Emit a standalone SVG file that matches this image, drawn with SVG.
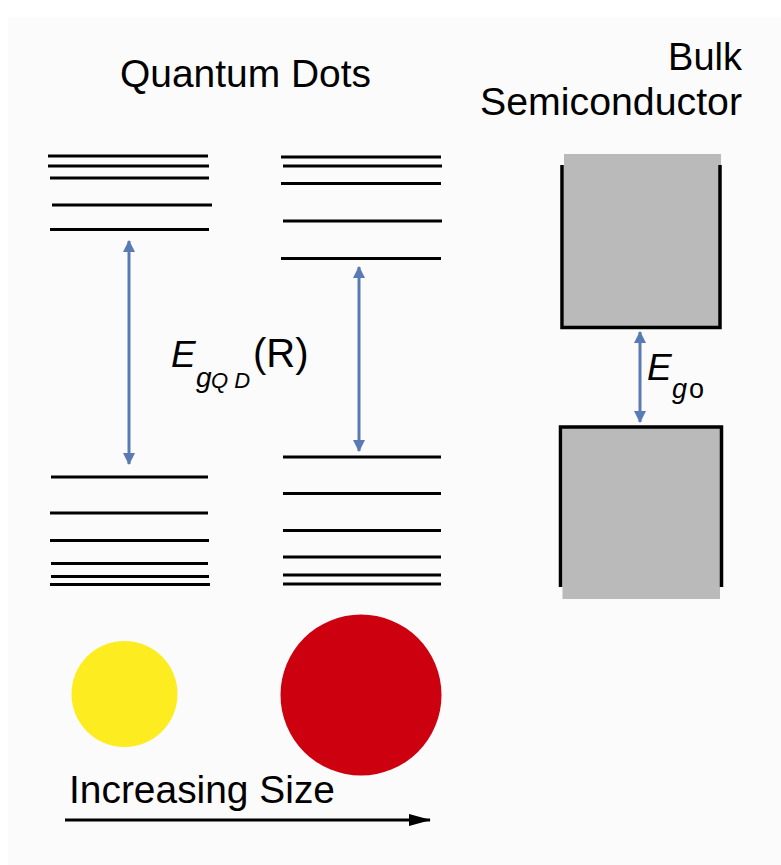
<svg xmlns="http://www.w3.org/2000/svg" width="781" height="865" viewBox="0 0 781 865">
<defs>
<style>
.t{font-family:"Liberation Sans",Arial,sans-serif;fill:#000}
.lv{stroke:#000;stroke-width:3;fill:none}
.bx{stroke:#000;stroke-width:3.5;fill:none}
.ar{stroke:#5a7ab4;stroke-width:3;fill:none}
</style>
<marker id="bh" viewBox="0 0 12 12" refX="11" refY="6" markerWidth="12" markerHeight="12" markerUnits="userSpaceOnUse" orient="auto-start-reverse">
<path d="M0,0 L12,6 L0,12 z" fill="#5a7ab4"/>
</marker>
<marker id="kh" viewBox="0 0 22 12" refX="21" refY="6" markerWidth="22" markerHeight="12" markerUnits="userSpaceOnUse" orient="auto">
<path d="M0,0 L22,6 L0,12 z" fill="#000"/>
</marker>
</defs>
<rect x="0" y="0" width="781" height="865" fill="#ffffff"/>
<rect x="8" y="17" width="773" height="848" fill="#fbfbfb"/>

<g id="title-qd"><text class="t" x="120" y="87" font-size="38" textLength="251" lengthAdjust="spacingAndGlyphs">Quantum Dots</text></g>
<g id="title-bulk">
<text class="t" x="742" y="70" font-size="38" text-anchor="end">Bulk</text>
<text class="t" x="742" y="115" font-size="38" text-anchor="end" textLength="262" lengthAdjust="spacingAndGlyphs">Semiconductor</text>
</g>

<g id="qd-small-levels" class="lv">
<line x1="48" y1="156" x2="208" y2="156"/>
<line x1="48" y1="166" x2="209" y2="166"/>
<line x1="50" y1="178" x2="209" y2="178"/>
<line x1="52" y1="205" x2="212" y2="205"/>
<line x1="50" y1="229.5" x2="209" y2="229.5"/>
<line x1="51" y1="477" x2="208" y2="477"/>
<line x1="50" y1="513" x2="208" y2="513"/>
<line x1="50" y1="540.5" x2="209" y2="540.5"/>
<line x1="51" y1="563.5" x2="208" y2="563.5"/>
<line x1="51" y1="576.5" x2="209" y2="576.5"/>
<line x1="50" y1="584.5" x2="210" y2="584.5"/>
</g>

<g id="qd-large-levels" class="lv">
<line x1="281" y1="157" x2="441" y2="157"/>
<line x1="283" y1="166" x2="442" y2="166"/>
<line x1="281" y1="183.5" x2="441" y2="183.5"/>
<line x1="283" y1="221" x2="442" y2="221"/>
<line x1="281" y1="258.5" x2="441" y2="258.5"/>
<line x1="283" y1="457" x2="441" y2="457"/>
<line x1="283" y1="493.5" x2="441" y2="493.5"/>
<line x1="283" y1="530.5" x2="441" y2="530.5"/>
<line x1="283" y1="557" x2="441" y2="557"/>
<line x1="283" y1="575" x2="441" y2="575"/>
<line x1="283" y1="584" x2="441" y2="584"/>
</g>

<g id="bulk-conduction">
<rect x="564" y="154" width="157" height="173" fill="#bababa"/>
<path class="bx" d="M562,165 V327.5 H720 V165"/>
</g>
<g id="bulk-valence">
<rect x="562.5" y="427" width="157.5" height="172" fill="#bababa"/>
<path class="bx" d="M560.5,587 V427 H721.5 V587"/>
</g>

<g id="label-egqd">
<text class="t" x="171" y="367" font-size="37" font-style="italic">E</text>
<text class="t" x="196" y="387" font-size="28" font-style="italic">g</text>
<text class="t" x="211" y="388" font-size="22" font-style="italic">Q D</text>
<text class="t" x="253" y="367" font-size="40">(R)</text>
</g>
<g id="label-eg0">
<text class="t" x="647" y="380" font-size="37" font-style="italic">E</text>
<text class="t" x="672" y="398" font-size="27" font-style="italic">g</text>
<text class="t" x="689" y="398" font-size="27">o</text>
</g>

<g id="dot-small"><circle cx="124.5" cy="694" r="53" fill="#fdec1f"/></g>
<g id="dot-large"><circle cx="361" cy="695" r="80.5" fill="#cc000f"/></g>

<g id="label-size"><text class="t" x="69" y="803" font-size="38" textLength="266" lengthAdjust="spacingAndGlyphs">Increasing Size</text></g>

<g id="connectors">
<line class="ar" x1="129" y1="241" x2="129" y2="464" marker-start="url(#bh)" marker-end="url(#bh)"/>
<line class="ar" x1="359" y1="267" x2="359" y2="451" marker-start="url(#bh)" marker-end="url(#bh)"/>
<line class="ar" x1="640" y1="332" x2="640" y2="422" marker-start="url(#bh)" marker-end="url(#bh)"/>
<line x1="65" y1="820" x2="430" y2="820" stroke="#000" stroke-width="3" marker-end="url(#kh)"/>
</g>
</svg>
